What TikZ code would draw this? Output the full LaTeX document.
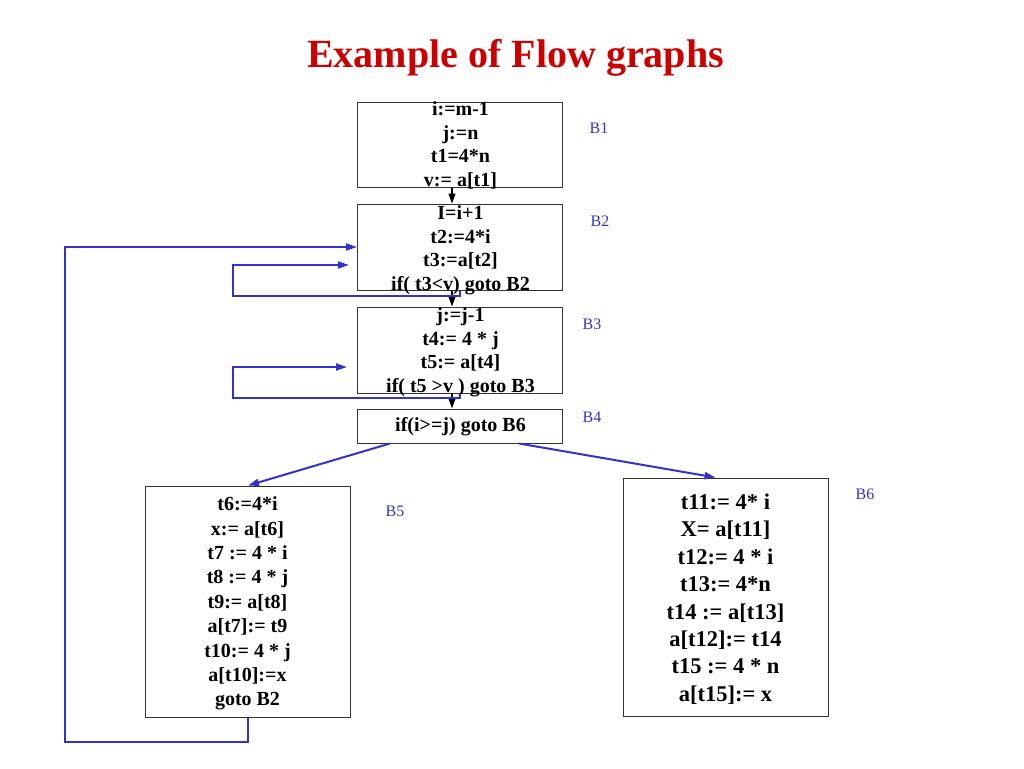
\documentclass[tikz,border=0pt]{standalone}
\usepackage{fontspec}
\setmainfont{Liberation Serif}
\usetikzlibrary{calc,arrows.meta}
\definecolor{loopblue}{RGB}{51,51,204}
\definecolor{titlered}{RGB}{204,0,0}

\begin{document}
\begin{tikzpicture}[x=1pt, y=-1pt,
        block/.style={draw=black!80, line width=1pt, rectangle, inner sep=0pt, minimum width=205pt},
        code/.style={font=\bfseries\fontsize{20}{23.5}\selectfont, align=center, inner sep=0pt},
        bigcode/.style={font=\bfseries\fontsize{22.5}{27.4}\selectfont, align=center, inner sep=0pt},
        tag/.style={text=loopblue, font=\fontsize{16}{19}\selectfont, inner sep=0pt},
        flow/.style={black, line width=1.3pt, -{Triangle[length=10pt,width=7pt]}},
        back/.style={loopblue, line width=2pt, -{Triangle[length=11pt,width=7pt]}}]
        \useasboundingbox (0,0) rectangle (1024,768);

        \node[text=titlered, font=\bfseries\fontsize{40}{44}\selectfont, anchor=base] (title) at (515.5,67) {Example of Flow graphs};

        % basic blocks
        \node[block, minimum height=85pt] (b1) at (460,144.5) {};
        \node[block, minimum height=86pt] (b2) at (460,247) {};
        \node[block, minimum height=86pt] (b3) at (460,350) {};
        \node[block, minimum height=34pt] (b4) at (460,426) {};
        \node[block, minimum height=231pt] (b5) at (248,601.5) {};
        \node[block, minimum height=238pt] (b6) at (725.5,597) {};

        \node[code] (c1) at (460.5,145.5) {i:=m-1\\ j:=n\\ t1=4*n\\ v:= a[t1]};
        \node[code] (c2) at (460.5,250.5) {I=i+1\\ t2:=4*i\\ t3:=a[t2]\\ if( t3<v) goto B2};
        \node[code] (c3) at (460.5,352.5) {j:=j-1\\ t4:= 4 * j\\ t5:= a[t4]\\ if( t5 >v ) goto B3};
        \node[code] (c4) at (460.5,427) {if(i>=j) goto B6};
        \node[code, font=\bfseries\fontsize{20}{24.4}\selectfont] (c5) at (247.5,603.5) {t6:=4*i\\ x:= a[t6]\\ t7 := 4 * i\\ t8 := 4 * j\\ t9:= a[t8]\\ a[t7]:= t9\\ t10:= 4 * j\\ a[t10]:=x\\ goto B2};
        \node[bigcode] (c6) at (725.5,599) {t11:= 4* i\\ X= a[t11]\\ t12:= 4 * i\\ t13:= 4*n\\ t14 := a[t13]\\ a[t12]:= t14\\ t15 := 4 * n\\ a[t15]:= x};

        \node[tag] (l1) at (599,128) {B1};
        \node[tag] (l2) at (600,221) {B2};
        \node[tag] (l3) at (592,324) {B3};
        \node[tag] (l4) at (592,417) {B4};
        \node[tag] (l5) at (395,511) {B5};
        \node[tag] (l6) at (865,494) {B6};

        % fall through
        \draw[flow] ($(b1.south)+(-8,0)$) -- ($(b2.north)+(-8,0)$);
        \draw[flow] ($(b2.south)+(-8,0)$) -- ($(b3.north)+(-8,0)$);
        \draw[flow] ($(b3.south)+(-8,0)$) -- ($(b4.north)+(-8,0)$);

        % jumps
        \draw[back] (b2.south) -- ++(0,5) -| ($(b2.west)+(-124,18)$) -- ($(b2.west)+(-8,18)$);
        \draw[back] (b3.south) -- ++(0,4) -| ($(b3.west)+(-124,17)$) -- ($(b3.west)+(-10,17)$);
        \draw[back] ($(b4.south)+(-70,0)$) -- (b5.north);
        \draw[back] ($(b4.south)+(59,0)$) -- ($(b6.north)+(-10,0)$);
        \draw[back] (b5.south) -- ++(0,24) -| ($(b2.west)+(-292,0)$) -- (b2.west);
\end{tikzpicture}
\end{document}
